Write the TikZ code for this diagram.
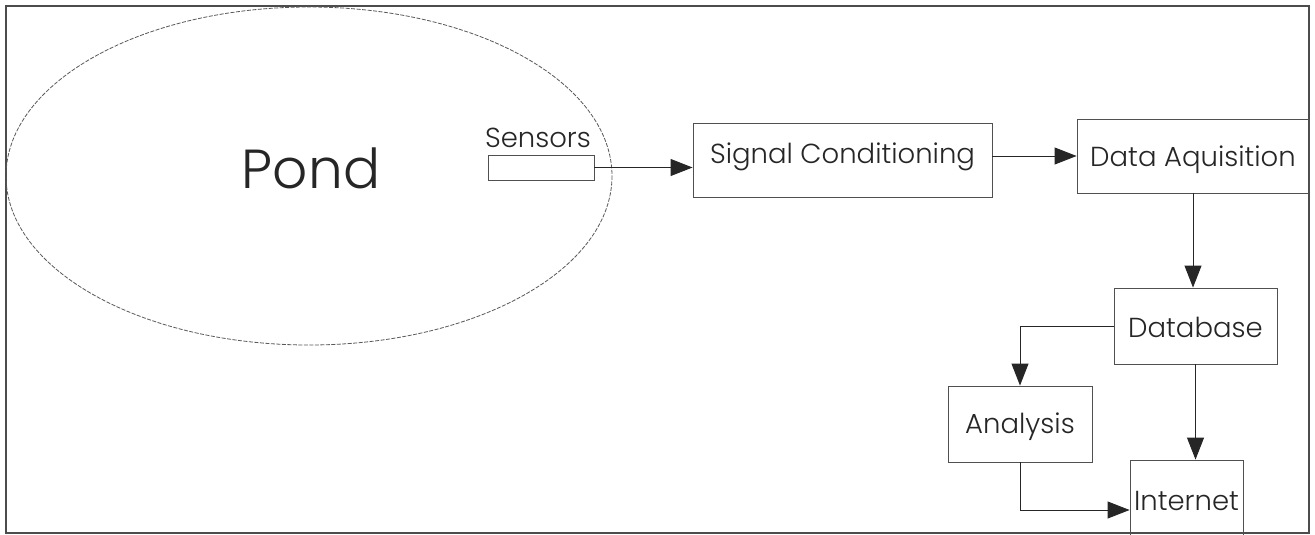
\documentclass[tikz,border=0pt]{standalone}
\usepackage{fontspec}
\setmainfont{Poppins Light}
\usetikzlibrary{arrows.meta}
\definecolor{ink}{HTML}{262626}
\definecolor{edge}{HTML}{505050}
\tikzset{
  stagebox/.style={draw=edge, line width=0.9pt, inner sep=0pt, text=ink, font=\fontsize{27.5}{32}\selectfont, align=center},
  flow/.style={draw=ink, line width=0.9pt, -{Triangle[length=22pt,width=17pt]}},
}
\begin{document}
\begin{tikzpicture}[x=1pt,y=-1pt]
\useasboundingbox (0,0) rectangle (1315,535);
\fill[white] (0,0) rectangle (1315,535);
% outer frame
\draw[gray!60!black, line width=1.4pt] (6,6) rectangle (1309,533);
% pond
\draw[gray!70!black, line width=0.8pt, dash pattern=on 4pt off 1.5pt] (309,176) ellipse [x radius=303, y radius=169];
\node[text=ink, font=\fontsize{55}{64}\selectfont, anchor=base] (pond) at (311,188) {Pond};
% sensors
\node[stagebox, minimum width=106pt, minimum height=25pt] (sens) at (541,167.5) {};
\node[text=ink, font=\fontsize{27.5}{32}\selectfont, anchor=base] (senslbl) at (538,147) {Sensors};
% boxes (center = top + height/2; baseline = top + text height)
\node[stagebox, minimum width=299pt, text height=40pt, text depth=34pt] (sig) at (842.5,160) {Signal Conditioning};
\node[stagebox, minimum width=232pt, text height=47pt, text depth=27pt] (data) at (1193,156) {Data Aquisition};
\node[stagebox, minimum width=163pt, text height=49pt, text depth=27pt] (db) at (1195.5,326) {Database};
\node[stagebox, minimum width=144pt, text height=47pt, text depth=29pt] (ana) at (1020,424) {Analysis};
\node[stagebox, minimum width=113pt, text height=50pt, text depth=50pt] (inet) at (1186.5,510) {Internet};
% connectors
\draw[flow] (sens.east) -- (sens.east -| sig.west);
\draw[flow] (sig.east |- data.west) -- (data.west);
\draw[flow] (data.south) -- (data.south |- db.north);
\draw[flow] (db.west) -| (ana.north);
\draw[flow] (db.south) -- (db.south |- inet.north);
\draw[flow] (ana.south) |- (inet.west);
\end{tikzpicture}
\end{document}
